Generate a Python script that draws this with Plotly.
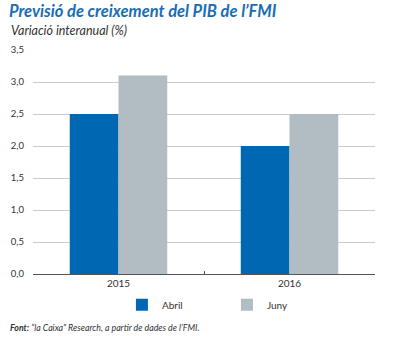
import plotly.graph_objects as go

categories = ["2015", "2016"]
abril = [2.5, 2.0]
juny = [3.1, 2.5]
series_names = ["Abril", "Juny"]
y_ticks = [0, 0.5, 1.0, 1.5, 2.0, 2.5, 3.0, 3.5]

FONT = "Lato"
BLUE = "#0068b3"
GREY = "#b1bdc2"

fig = go.Figure()
fig.add_trace(go.Bar(x=categories, y=abril, name=series_names[0],
                     marker=dict(color=BLUE, line=dict(width=0))))
fig.add_trace(go.Bar(x=categories, y=juny, name=series_names[1],
                     marker=dict(color=GREY, line=dict(width=0))))

fig.update_layout(
    width=395, height=338,
    margin=dict(l=33, r=20, t=50, b=64),
    paper_bgcolor="white", plot_bgcolor="white",
    separators=",.",
    barmode="group", bargap=0.43, bargroupgap=0,
    font=dict(family=FONT, size=10, color="#333333"),
    title=dict(text="<b><i>Previsió de creixement del PIB de l’FMI</i></b>",
               x=9/395, xref="container", xanchor="left",
               y=1 - 11/338, yref="container", yanchor="middle",
               pad=dict(t=0, l=0, b=0, r=0),
               font=dict(family=FONT, size=16.5, color="#1a6db3")),
    xaxis=dict(showline=True, linecolor="#555555", linewidth=1,
               ticks="inside", ticklen=3, tickcolor="#555555", tickson="boundaries",
               showgrid=False, tickfont=dict(size=10, color="#333333"),
               fixedrange=True),
    yaxis=dict(range=[0, 3.5], tickvals=y_ticks, tickformat=".1f",
               showgrid=True, gridcolor="#cccccc", gridwidth=1,
               zeroline=False, showline=False, ticks="", ticklabelstandoff=8,
               tickfont=dict(size=9.5, color="#333333")),
    legend=dict(orientation="h", x=0.26, xanchor="left", y=-0.072, yanchor="top",
                font=dict(size=10, color="#333333"), itemwidth=30,
                entrywidth=60, traceorder="normal"),
    showlegend=True,
    annotations=[
        dict(text="<i>Variació interanual (%)</i>", xref="paper", yref="paper",
             x=-33/342 + 9/342, y=1 + 19/224, xanchor="left", yanchor="middle",
             showarrow=False, font=dict(family=FONT, size=12.5, color="#333333")),
        dict(text="<i><b>Font:</b> “la Caixa” Research, a partir de dades de l’FMI.</i>",
             xref="paper", yref="paper", x=-33/342 + 8/342, y=-53/224,
             xanchor="left", yanchor="middle", showarrow=False,
             font=dict(family=FONT, size=8.8, color="#333333")),
    ],
)

fig.write_html("out.html")
